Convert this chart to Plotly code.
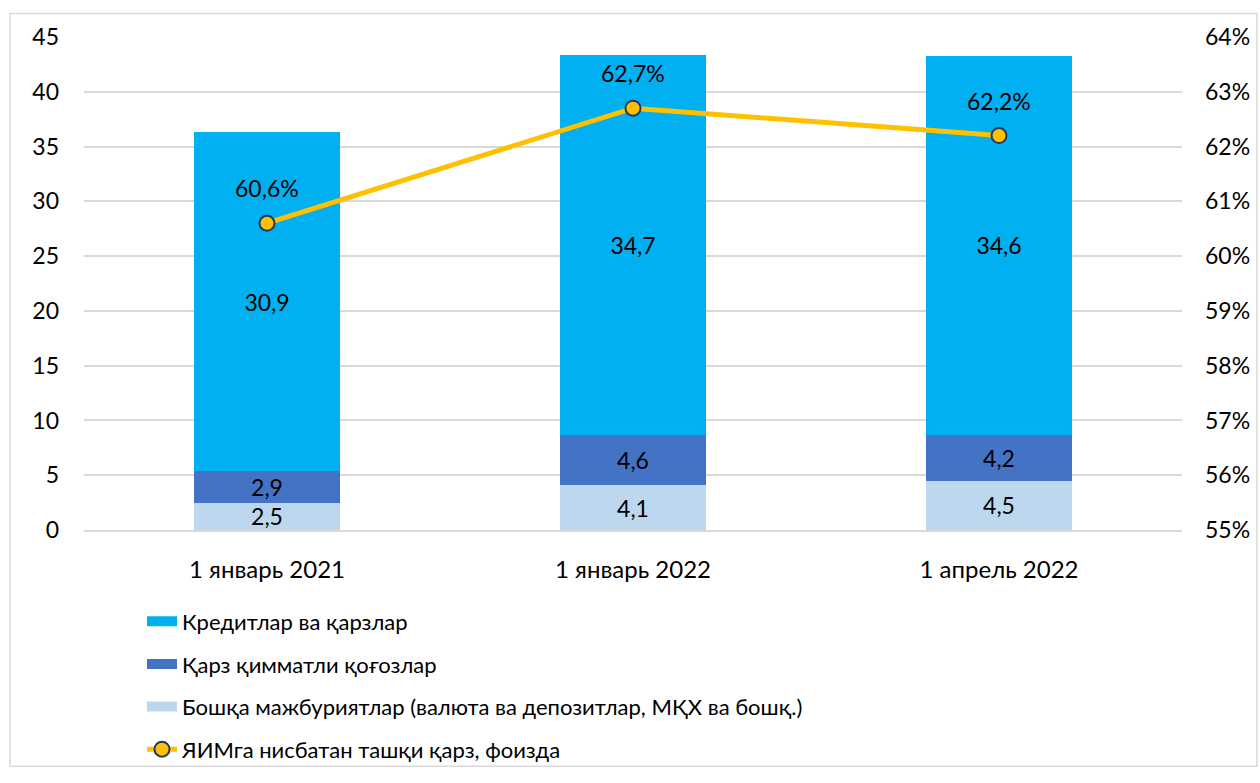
import plotly.graph_objects as go

categories = ["1 январь 2021", "1 январь 2022", "1 апрель 2022"]
other = [2.5, 4.1, 4.5]
securities = [2.9, 4.6, 4.2]
loans = [30.9, 34.7, 34.6]
ratio = [60.6, 62.7, 62.2]

names = [
    "Кредитлар ва қарзлар",
    "Қарз қимматли қоғозлар",
    "Бошқа мажбуриятлар (валюта ва депозитлар, МҚХ ва бошқ.)",
    "ЯИМга нисбатан ташқи қарз, фоизда",
]

FONT = "Lato, 'Noto Sans', sans-serif"
fig = go.Figure()

bar_specs = [
    (other, names[2], "#BDD7EE", 3),
    (securities, names[1], "#4472C4", 2),
    (loans, names[0], "#00B0F0", 1),
]
for vals, name, color, rank in bar_specs:
    fig.add_trace(go.Bar(
        x=categories, y=vals, name=name, marker=dict(color=color, line=dict(width=0)),
        text=vals, texttemplate="%{y:.1f}", textposition="inside",
        insidetextanchor="middle", textangle=0, constraintext="none",
        textfont=dict(size=23, color="#000000", family=FONT),
        showlegend=False, yaxis="y",
    ))
    # legend swatch (wide rectangle like the original)
    fig.add_trace(go.Scatter(
        x=[None], y=[None], name=name, mode="lines",
        line=dict(color=color, width=14), legendrank=rank, legendgroup=name,
    ))

fig.add_trace(go.Scatter(
    x=categories, y=ratio, name=names[3], yaxis="y2", mode="lines+markers",
    line=dict(color="#FFC000", width=5),
    marker=dict(size=15, color="#FFC000", line=dict(color="#1F3864", width=2)),
    legendrank=4, legendgroup=names[3],
))

for c, v in zip(categories, ratio):
    fig.add_annotation(x=c, y=v, yref="y2", xref="x", text=f"{v:.1f}%".replace(".", ","),
                       showarrow=False, yshift=35, font=dict(size=23, color="#000000", family=FONT))

# outer border
fig.add_shape(type="rect", xref="paper", yref="paper",
              x0=(10 - 84) / 1098, x1=(1257 - 84) / 1098,
              y0=(540 - 781) / 503, y1=(540 - 13) / 503,
              line=dict(color="#D9D9D9", width=1.5), fillcolor="rgba(0,0,0,0)", layer="below")

fig.update_layout(
    width=1260, height=783,
    margin=dict(l=84, r=78, t=37, b=243),
    barmode="stack", bargap=0.6,
    separators=", ",
    plot_bgcolor="white", paper_bgcolor="white",
    font=dict(family=FONT, size=23, color="#000000"),
    xaxis=dict(showgrid=False, showline=True, linecolor="#D9D9D9", linewidth=1.5,
               ticks="", tickfont=dict(size=24), ticklabelstandoff=17, automargin=False,
               range=[-0.5, 2.5]),
    yaxis=dict(range=[0, 45], dtick=5, showgrid=True, gridcolor="#D9D9D9", gridwidth=1.5,
               zeroline=False, ticks="", tickfont=dict(size=23), ticklabelstandoff=24,
               automargin=False),
    yaxis2=dict(range=[55, 64], dtick=1, overlaying="y", side="right", showgrid=False,
                zeroline=False, ticksuffix="%", ticks="", tickfont=dict(size=23),
                ticklabelstandoff=22, automargin=False),
    legend=dict(x=(142 - 84) / 1098, y=(540 - 612) / 503, xanchor="left", yanchor="top",
                orientation="v", traceorder="grouped", tracegroupgap=11,
                font=dict(size=22, color="#000000"), bgcolor="rgba(0,0,0,0)"),
    showlegend=True,
)

fig.write_html(
    "out.html",
    config={"displayModeBar": False},
    post_script="document.body.style.margin='0';document.body.style.overflow='hidden';"
                "document.documentElement.style.overflow='hidden';",
)
